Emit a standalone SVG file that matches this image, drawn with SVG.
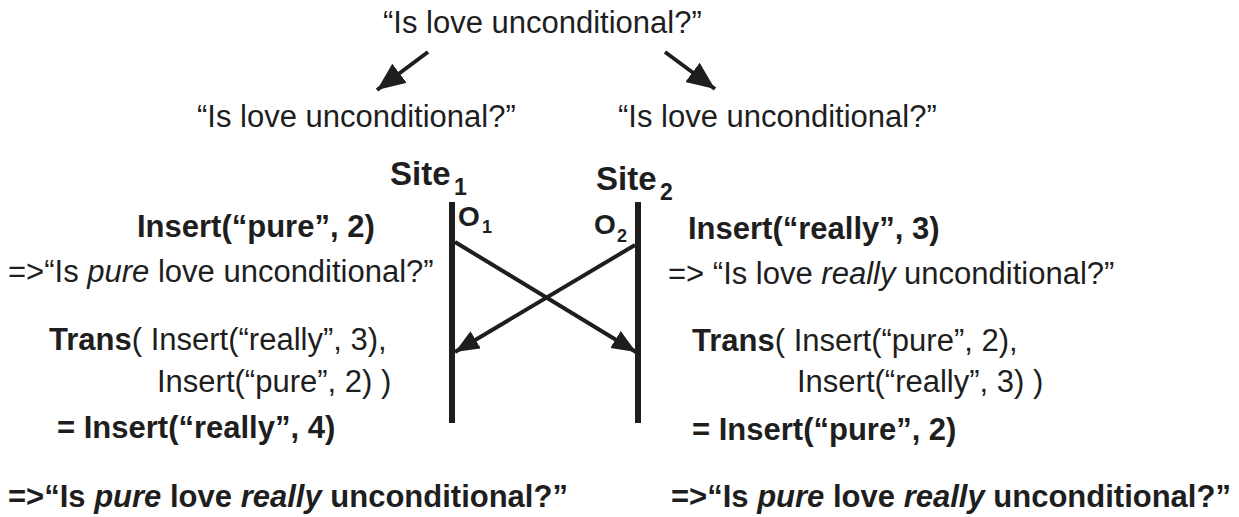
<svg xmlns="http://www.w3.org/2000/svg" width="1239" height="517" viewBox="0 0 1239 517">
<style>
text{font-family:"Liberation Sans",Arial,sans-serif;fill:#1e1e1e;font-size:31px}
.b{font-weight:bold}
.i{font-style:italic}
text.site{font-size:33px}
tspan.ssub{font-size:23px}
text.op{font-size:28px}
tspan.osub{font-size:18px}
.conn{stroke:#1e1e1e;stroke-width:4;fill:none}
.axis{stroke:#1e1e1e;stroke-width:6;fill:none}
</style>
<defs>
<marker id="ah" markerUnits="userSpaceOnUse" markerWidth="26" markerHeight="22" refX="24" refY="10" orient="auto">
<path d="M0,0 L24,10 L0,20 Z" fill="#1e1e1e"/>
</marker>
<marker id="ahBig" markerUnits="userSpaceOnUse" markerWidth="30" markerHeight="26" refX="28" refY="12" orient="auto">
<path d="M0,0 L28,12 L0,24 Z" fill="#1e1e1e"/>
</marker>
</defs>
<rect width="1239" height="517" fill="#fff"/>
<g id="orig"><text x="383" y="33">“Is love unconditional?”</text></g>
<g id="copy1"><text x="197" y="127">“Is love unconditional?”</text></g>
<g id="copy2"><text x="618" y="127">“Is love unconditional?”</text></g>
<g id="site1">
<text class="b site" x="390" y="185">Site<tspan class="ssub" x="454" dy="10">1</tspan></text>
<line class="axis" x1="452" y1="202" x2="452" y2="423"/>
<text class="b op" x="458" y="226">O<tspan class="osub" x="482" dy="7">1</tspan></text>
</g>
<g id="site2">
<text class="b site" x="596" y="190">Site<tspan class="ssub" x="660" dy="10">2</tspan></text>
<line class="axis" x1="638" y1="202" x2="638" y2="423"/>
<text class="b op" x="594" y="234">O<tspan class="osub" x="617" dy="8">2</tspan></text>
</g>
<g id="left">
<text class="b" x="137" y="237">Insert(“pure”, 2)</text>
<text x="8" y="282">=&gt;“Is <tspan class="i">pure</tspan> love unconditional?”</text>
<text x="49" y="350"><tspan class="b">Trans</tspan>( Insert(“really”, 3),</text>
<text x="157" y="392">Insert(“pure”, 2) )</text>
<text class="b" x="57" y="438">= Insert(“really”, 4)</text>
<text class="b" x="8" y="507">=&gt;“Is <tspan class="i">pure</tspan> love <tspan class="i">really</tspan> unconditional?”</text>
</g>
<g id="right">
<text class="b" x="688" y="239">Insert(“really”, 3)</text>
<text x="668" y="284">=&gt; “Is love <tspan class="i">really</tspan> unconditional?”</text>
<text x="692" y="351"><tspan class="b">Trans</tspan>( Insert(“pure”, 2),</text>
<text x="797" y="392">Insert(“really”, 3) )</text>
<text class="b" x="692" y="440">= Insert(“pure”, 2)</text>
<text class="b" x="671" y="507">=&gt;“Is <tspan class="i">pure</tspan> love <tspan class="i">really</tspan> unconditional?”</text>
</g>
<g id="connectors">
<line class="conn" x1="428" y1="52" x2="377" y2="90" marker-end="url(#ahBig)"/>
<line class="conn" x1="665" y1="52" x2="715" y2="89" marker-end="url(#ahBig)"/>
<line class="conn" x1="455" y1="242" x2="636" y2="352" marker-end="url(#ah)"/>
<line class="conn" x1="635" y1="245" x2="455" y2="352" marker-end="url(#ah)"/>
</g>
</svg>
